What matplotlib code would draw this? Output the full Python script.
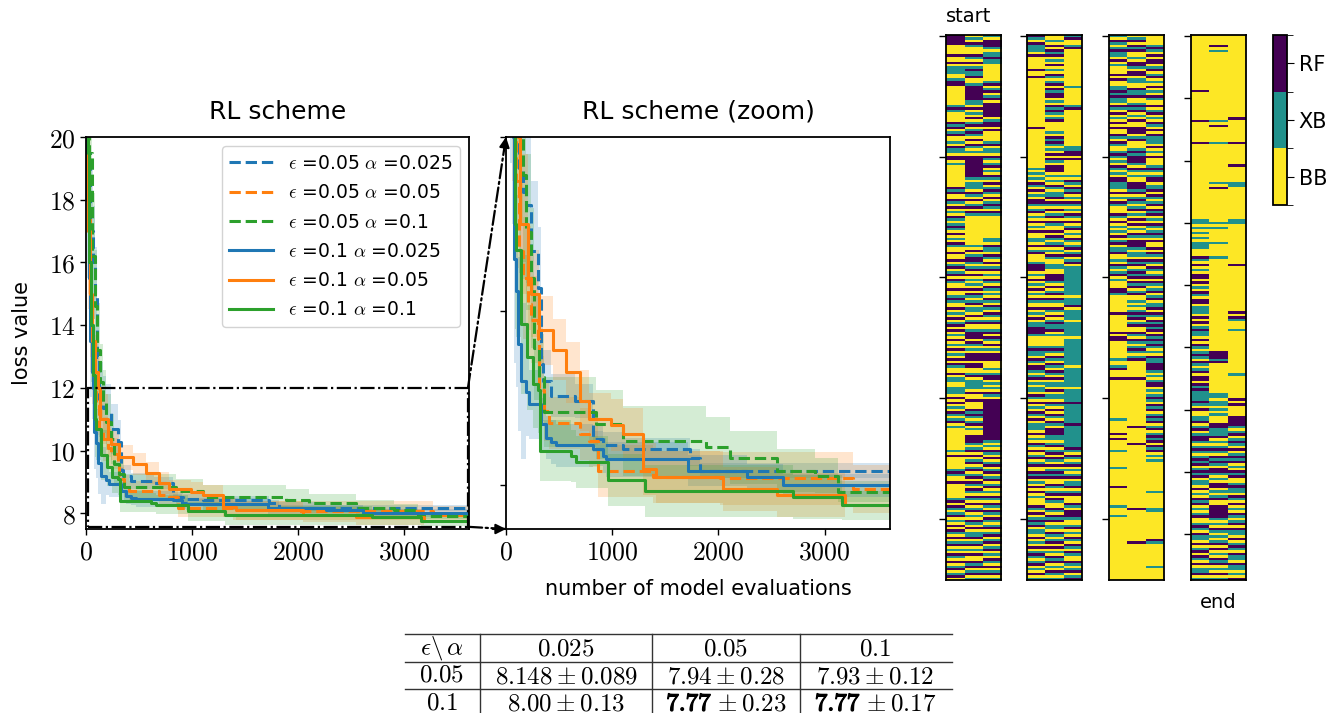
import matplotlib
matplotlib.use('Agg')
import matplotlib.pyplot as plt
import matplotlib.ticker as mticker
import matplotlib.patheffects as pe
from matplotlib.colors import ListedColormap, BoundaryNorm
from matplotlib.patches import Rectangle, ConnectionPatch
from matplotlib.lines import Line2D
import numpy as np

plt.rcParams['mathtext.fontset'] = 'cm'
plt.rcParams['font.family'] = 'DejaVu Sans'

# ---------------- data: convergence curves (best loss vs evaluations) ----------------
t_e005_a0025 = [0, 20, 40, 63, 85, 105, 126, 157, 189, 236, 299, 330, 346, 425, 645, 818, 912, 1100, 1730, 1824, 3615]
v_e005_a0025 = [25, 19.5, 17.0, 16.0, 15.0, 13.0, 11.64, 11.37, 11.22, 10.69, 10.27, 9.39, 9.2, 9.03, 8.97, 8.53, 8.46, 8.42, 8.32, 8.17, 8.15]
s_e005_a0025 = [3, 2.5, 2, 1.8, 1.5, 1.3, 1.2, 1.0, 0.9, 0.8, 0.7, 0.5, 0.35, 0.25, 0.2, 0.15, 0.15, 0.12, 0.1, 0.09, 0.089]

t_e005_a005 = [0, 20, 40, 60, 80, 94, 126, 157, 204, 236, 299, 315, 362, 409, 692, 786, 865, 1384, 2013, 3271, 3615]
v_e005_a005 = [24, 17.5, 14.5, 13.0, 12.3, 11.5, 10.69, 10.38, 10.08, 9.9, 9.68, 9.09, 8.86, 8.72, 8.59, 8.51, 8.17, 8.1, 8.08, 7.96, 7.94]
s_e005_a005 = [3, 2.5, 2, 1.5, 1.2, 1.0, 0.8, 0.7, 0.6, 0.5, 0.5, 0.4, 0.35, 0.3, 0.3, 0.3, 0.3, 0.3, 0.3, 0.28, 0.28]

t_e005_a01 = [0, 25, 53, 85, 100, 132, 157, 189, 236, 267, 315, 362, 849, 1100, 1887, 2107, 2547, 2909, 3129, 3615]
v_e005_a01 = [26, 19.5, 16.2, 14.6, 13.2, 12.2, 11.56, 10.91, 10.38, 9.58, 9.24, 8.84, 8.7, 8.51, 8.44, 8.32, 8.17, 8.11, 7.93, 7.93]
s_e005_a01 = [3, 2.5, 2, 1.8, 1.5, 1.2, 1.0, 0.9, 0.8, 0.6, 0.5, 0.4, 0.4, 0.4, 0.35, 0.3, 0.25, 0.2, 0.12, 0.12]

t_e01_a0025 = [0, 12, 25, 40, 55, 70, 80, 95, 110, 140, 190, 220, 330, 375, 425, 470, 820, 910, 945, 1715, 2265, 2610, 3615]
v_e01_a0025 = [24, 18, 15.5, 13.5, 12.5, 12.0, 10.6, 10.23, 9.62, 9.2, 9.07, 8.93, 8.7, 8.55, 8.5, 8.46, 8.42, 8.34, 8.3, 8.17, 8.1, 8.0, 8.0]
s_e01_a0025 = [3, 2.5, 2, 1.8, 1.5, 1.3, 1.2, 1.1, 1.0, 0.9, 0.5, 0.4, 0.3, 0.25, 0.25, 0.25, 0.2, 0.2, 0.2, 0.18, 0.15, 0.13, 0.13]

t_e01_a005 = [0, 20, 40, 60, 85, 110, 130, 204, 236, 315, 440, 566, 692, 786, 991, 1100, 1290, 1415, 2044, 2547, 3190]
v_e01_a005 = [24, 17, 15, 13.5, 12.5, 12.0, 11.0, 10.38, 10.2, 9.78, 9.56, 9.3, 8.97, 8.76, 8.69, 8.59, 8.19, 8.1, 7.96, 7.89, 7.77]
s_e01_a005 = [3, 2.5, 2, 1.5, 1.2, 1.0, 0.8, 0.6, 0.5, 0.4, 0.35, 0.35, 0.35, 0.3, 0.3, 0.3, 0.3, 0.3, 0.25, 0.25, 0.23]

t_e01_a01 = [0, 15, 30, 45, 65, 85, 95, 140, 200, 250, 300, 320, 610, 660, 960, 1310, 2700, 3160, 3615]
v_e01_a01 = [26, 19.5, 16.0, 14.0, 12.4, 11.0, 10.7, 9.85, 9.47, 9.16, 9.1, 8.40, 8.34, 8.27, 8.06, 7.94, 7.87, 7.77, 7.77]
s_e01_a01 = [3, 2.5, 2, 1.8, 1.5, 1.2, 1.0, 0.8, 0.6, 0.5, 0.5, 0.35, 0.3, 0.3, 0.3, 0.3, 0.25, 0.17, 0.17]

series_labels = [r'$\epsilon$ =0.05 $\alpha$ =0.025', r'$\epsilon$ =0.05 $\alpha$ =0.05',
                 r'$\epsilon$ =0.05 $\alpha$ =0.1', r'$\epsilon$ =0.1 $\alpha$ =0.025',
                 r'$\epsilon$ =0.1 $\alpha$ =0.05', r'$\epsilon$ =0.1 $\alpha$ =0.1']

# ---------------- data: table ----------------
eps_values = ['0.05', '0.1']
alpha_values = ['0.025', '0.05', '0.1']
table_means = [['8.148', '7.94', '7.93'], ['8.00', '7.77', '7.77']]
table_stds = [['0.089', '0.28', '0.12'], ['0.13', '0.23', '0.17']]

# ---------------- data: model choice per iteration (Y=BB, T=XB, P=RF) ----------------
cat_labels = ['BB', 'XB', 'RF']
panel_rows = [226, 226, 226, 219]
start_c1 = "PPPP YYYY P YY PY TTT YY T PP Y Y7 TPT YYYY PTPY TPY YTYP TT YP PYT Y9 P TPY YPT YPY TYPT YTP TYP YTYP TYY PY YPYT PYT PYP TYYP YYT PTY YPY TYP YTP YPY TYP YTY PYT YPYP TYY PY TTY YTTT YP YPYT YPTY TPYTY Y8 TYP Y5 T PT YY P Y6 TPY PTY TPY TYPY PTYP YTPYT YPTY PYTP YTPY"
start_c2 = "YT YPT YY YP TY PY TP TT PY YT P6 TT YPY TYP YTP YTP TYP YPT YTY P P8 TYT TTY PTY PYT PYP T Y12 TYP YTP PTY TPY PYT YTYP YPT YTP YTT YPY TPY YTP PPY PTY TYP PPY PPY YTP YTT TTYP YYP YYY PTPT YTPYT YYP PPTY TPY PYTP YTPY TPYPT YPTY PTYP YTPY TYPT YPYT TPYTP YTYP YYP TPYT PYT"
start_c3 = "TY PPPT YT TP TT Y7 TP YTP YT PY P6 YT PPY P YYYY TP YTT YP TY TPY TYP TYP YTP TYP YTP TYP T Y9 TT YPT TY PTY PY TPYT YPT YPTY TYPTY PTY PTY TPY YTP YPT YPY TYP PPYY YTY TP PYT YTY PTY P16 PTY TYP TYP YTPY TPYTP YTPY TYPT YPTY PTYP TYTP YTPY TPYT PYTY PTYP YTPYT"
mid1_c1 = "PT YPT TT Y P Y5 P YY P Y20 P Y16 T YTY TY PTY PYT YPP TYT PYT YPY TYP YYT TY PYT PYY YT PPP YTYP YTY PYT YPTY YPY TYP YT TP PP T Y YYYT PTTY PTY PPTY TPYT YTT YPT YPY TYP TYP YTT TYP YTY PTYP YTPY TPY YPT PY TYP YPY TY YYP TYP YTP TPY TTY PYT YPY TPT YTPY TYPYT"
mid1_c2 = "YY TYP YP TPY TY PYT YPT YTP YPT PP YT YPT PTY TPY YY YT YPT PTY TYP YPT YP PP YTY TY PTY TTP YPT YPY TPY PTY YPY PTY TPY TYP TYY TT YY PPP TYP YTP YPTY YPT YPY TP TTPY TY YYY TP TYP TY PTY PTY PYT TYP YTT YPT YPY PTY PTYP PPT TY TP YTP YP TYP YTP TPY YPT YTP YP TYY PT YPT PYT TYPT YTP YPY TYP TPYT YPTYT"
mid1_c3 = "TP YYT P Y15 T Y7 T P Y15 TT PP YP Y6 TY PTY PTP YTY PTY TYP TYP YTP YTY PTY TP YTP YTP YT T11 Y TTT P Y TTTT Y T6 Y T11 Y T8 Y T5 P T8 P T9 PT YPT YTP YTY TPY TTP YTPY YYP TYPP PTY YTP YTYP TY PTY PTY YPTY TPYTP"
mid2_c1 = "TY PTY TP TT YP YT Y YYP YP YYT TPT PT TY PT YPY TYP YPY YP TY PTY YT PTY TY PTY TY PPT TT YPY TY PTY YYP TYP YTY TYP YTP YT TPY YTY PT YTP YTY YY PPT Y7 P Y7 P YP PY Y6 T YY T P YYY P Y16 T Y5 P Y P Y4 T Y6 T Y7 P Y7 T YYY T Y26"
mid2_c2 = "Y TPY PT PY YT YP PT YP PY TTY YPT TP YYT PT PYT YP YYP PP YTP YYY TPT PPP TY PTY TY YPP PTP YT PTY TPY TYP YPY TYP TYP PPT YT TYP TP YTP TPY PTPY TPY YTY T Y T P T P YTPY Y PT YP TYTP TY T P Y7 P Y19 P Y6 P Y26 P Y13 P Y15"
mid2_c3 = "YYYY TP TY PY PPY TP YTP YTY PYT YP TYY PY TPY TYP TYP YPT TTY PYT YP YYY TPT YTP PYT TPY PT YTP YPT PYT YPT YTP TYP YYP YP TYP TY PTY TP YPT YTP YT PYT TPY PTY PTP TPY PTP TPT YTY PT TP PP TYT YT PP YTY TPT YPT PYT PTP YTP YTP TPY PTP YTY T Y12 T Y6 T T Y11 P T Y9 T Y5"
end_c1 = "Y22 P Y11 P Y8 P Y30 TT Y T Y TY TY TTT YYY P TY PY T YP PY PYT YP TY PPY TTT YP YP YT PT TY PY PT YT PT YP TY TP YPPY PT PTT TT PT YP YY TT PY TP YT PPT YTP TYT PTP YTP TPY TTY PYT YPT PYT YTP YYT PTY PT TYP YTP YPT YPY TTP YT"
end_c2 = "Y4 P Y T Y27 T Y P Y6 T Y15 T Y P Y13 T Y T Y5 T Y5 T Y37 PPP T PY Y11 TT Y TT Y TY TY YYP PTT TPY TYT PTY PTP TYP PTY TYP PYT YTP YYP PPPP TYT YPT YTY TPY PYT YPT PYT YP YT"
end_c3 = "Y33 P Y9 P Y8 P Y6 TT Y Y12 TT Y16 P Y18 P Y P T YYY T Y17 T Y9 P Y P Y4 PPPP TY TP YTP TYP YTP TPY TYP TPY YTP TTY PTY PYT YPT YTP YPT TYP YTP TYP TTY PTT YT YP"
panels = [[start_c1, start_c2, start_c3], [mid1_c1, mid1_c2, mid1_c3],
          [mid2_c1, mid2_c2, mid2_c3], [end_c1, end_c2, end_c3]]


def expand(s, n):
    out = []
    for tok in s.split():
        if len(tok) > 1 and tok[1:].isdigit():
            out.append(tok[0] * int(tok[1:]))
        else:
            out.append(tok)
    full = ''.join(out)
    return full[:n].ljust(n, 'Y')


CODE = {'Y': 0, 'T': 1, 'P': 2}

# ---------------- figure ----------------
W, H = 1342, 713
fig = plt.figure(figsize=(W / 100, H / 100), dpi=100)


def box(x0, y0, x1, y1):
    return [x0 / W, 1 - y1 / H, (x1 - x0) / W, (y1 - y0) / H]


ax1 = fig.add_axes(box(86, 137, 469, 529))
ax2 = fig.add_axes(box(506, 137, 890, 529))

colors = ['#1f77b4', '#ff7f0e', '#2ca02c', '#1f77b4', '#ff7f0e', '#2ca02c']
styles = ['--', '--', '--', '-', '-', '-']
data = [(t_e005_a0025, v_e005_a0025, s_e005_a0025), (t_e005_a005, v_e005_a005, s_e005_a005),
        (t_e005_a01, v_e005_a01, s_e005_a01), (t_e01_a0025, v_e01_a0025, s_e01_a0025),
        (t_e01_a005, v_e01_a005, s_e01_a005), (t_e01_a01, v_e01_a01, s_e01_a01)]

cm_fmt = mticker.FuncFormatter(lambda v, p: f'${v:.0f}$')
for ax in (ax1, ax2):
    for (t, v, s), c in zip(data, colors):
        t = np.array(t, float); v = np.array(v, float); s = np.array(s, float)
        ax.fill_between(t, v - s, v + s, step='post', color=c, alpha=0.2, lw=0)
    for (t, v, s), c, ls, lab in zip(data, colors, styles, series_labels):
        ax.step(t, v, where='post', color=c, ls=ls, lw=2.2, label=lab)
    ax.set_xlim(0, 3615)
    ax.set_xticks([0, 1000, 2000, 3000])
    ax.xaxis.set_major_formatter(cm_fmt)
    ax.tick_params(labelsize=18.5, length=4, width=1)
    for sp in ax.spines.values():
        sp.set_linewidth(1.3)

ax1.set_ylim(7.5, 20)
ax1.set_yticks([8, 10, 12, 14, 16, 18, 20])
ax1.yaxis.set_major_formatter(cm_fmt)
ax2.set_ylim(7.5, 12)
ax2.set_yticks([8, 10, 12])
ax2.set_yticklabels([])

ax1.set_title('RL scheme', fontsize=18, pad=13)
ax2.set_title('RL scheme (zoom)', fontsize=18, pad=13)
ax1.set_ylabel('loss value', fontsize=15, labelpad=12)
ax2.set_xlabel('number of model evaluations', fontsize=15, labelpad=10)

ax1.legend(loc='upper right', fontsize=13.5, handlelength=2.3, labelspacing=0.55,
           framealpha=0.85, edgecolor='#cccccc', borderaxespad=0.5)

# zoom box + connectors
ZX0, ZX1, ZY0, ZY1 = 20, 3605, 7.57, 12.0
ax1.add_patch(Rectangle((ZX0, ZY0), ZX1 - ZX0, ZY1 - ZY0, fill=False, ls='-.', lw=1.6,
                        ec='k', zorder=6, clip_on=False))
for yA, yB in ((ZY1, 1.0), (ZY0, 0.0)):
    con = ConnectionPatch(xyA=(ZX1, yA), coordsA=ax1.transData, xyB=(0, yB), coordsB=ax2.transAxes,
                          arrowstyle='-', ls='-.', lw=1.6, color='k')
    fig.add_artist(con)
ax2.annotate('', xy=(0, 1), xycoords='axes fraction', xytext=(-1.4, -9.5), textcoords='offset points',
             arrowprops=dict(arrowstyle='-|>', color='k', lw=1.5, mutation_scale=15, shrinkA=0, shrinkB=0))
ax2.annotate('', xy=(0, 0), xycoords='axes fraction', xytext=(-9.5, 0), textcoords='offset points',
             arrowprops=dict(arrowstyle='-|>', color='k', lw=1.5, mutation_scale=15, shrinkA=0, shrinkB=0))

# ---------------- heatmaps ----------------
cmap = ListedColormap(['#fde725', '#21918c', '#440154'])
norm = BoundaryNorm([-0.5, 0.5, 1.5, 2.5], 3)
hx = [946, 1027, 1109, 1191]
tick_steps = [50, 50, 50, 25]
haxes = []
for i, cols in enumerate(panels):
    n = panel_rows[i]
    arr = np.array([[CODE[ch] for ch in expand(col, n)] for col in cols]).T
    axh = fig.add_axes(box(hx[i], 35, hx[i] + 55, 580))
    axh.imshow(arr, cmap=cmap, norm=norm, aspect='auto', interpolation='nearest')
    axh.set_xticks([])
    axh.set_yticks(np.arange(0, n, tick_steps[i]))
    axh.set_yticklabels([])
    axh.tick_params(axis='y', length=5, width=1)
    for sp in axh.spines.values():
        sp.set_linewidth(1.3)
    haxes.append(axh)
haxes[0].set_title('start', loc='left', fontsize=14, pad=9)
haxes[3].set_xlabel('end', fontsize=14, labelpad=9)

cax = fig.add_axes(box(1273, 35, 1287, 205))
sm = matplotlib.cm.ScalarMappable(norm=norm, cmap=cmap)
cb = fig.colorbar(sm, cax=cax, ticks=[0, 1, 2])
cb.ax.set_yticklabels(cat_labels)
cb.ax.tick_params(labelsize=15, length=5)
cb.ax.yaxis.set_ticks([-0.5, 0.5, 1.5, 2.5], minor=True)
cb.ax.tick_params(which='minor', length=4)
cb.outline.set_linewidth(1.3)

# ---------------- table ----------------
col_cx = [442, 566, 726, 875]
row_cy = [648, 675, 702]
line_col = '#333333'
for y in (634, 662, 689):
    fig.add_artist(Line2D([405 / W, 952 / W], [1 - y / H, 1 - y / H], color=line_col, lw=1))
for x in (480, 652, 800):
    fig.add_artist(Line2D([x / W, x / W], [1 - 634 / H, 0], color=line_col, lw=1))

TFS = 18
fig.text(col_cx[0] / W, 1 - row_cy[0] / H, r'$\epsilon\backslash\,\alpha$', ha='center', va='center', fontsize=TFS)
for j, a in enumerate(alpha_values):
    fig.text(col_cx[j + 1] / W, 1 - row_cy[0] / H, f'${a}$', ha='center', va='center', fontsize=TFS)
best = min(float(m) for row in table_means for m in row)
split_cells = []
for i, e in enumerate(eps_values):
    fig.text(col_cx[0] / W, 1 - row_cy[i + 1] / H, f'${e}$', ha='center', va='center', fontsize=TFS)
    for j in range(3):
        m, s = table_means[i][j], table_stds[i][j]
        yb = 1 - row_cy[i + 1] / H - 0.012
        if float(m) == best:
            tb = fig.text(0, yb, '$' + m + '$', ha='left', va='baseline', fontsize=TFS,
                          path_effects=[pe.withStroke(linewidth=0.9, foreground='k')])
            tr = fig.text(0, yb, r'${}\pm ' + s + '$', ha='left', va='baseline', fontsize=TFS)
            split_cells.append((tb, tr, col_cx[j + 1]))
        else:
            fig.text(col_cx[j + 1] / W, yb, '$' + m + r'\pm ' + s + '$',
                     ha='center', va='baseline', fontsize=TFS)

fig.canvas.draw()
for tb, tr, cx in split_cells:
    wb = tb.get_window_extent().width
    wr = tr.get_window_extent().width
    left = cx - (wb + wr) / 2
    tb.set_x(left / W)
    tr.set_x((left + wb + 1) / W)

fig.savefig('out.png', dpi=100)
